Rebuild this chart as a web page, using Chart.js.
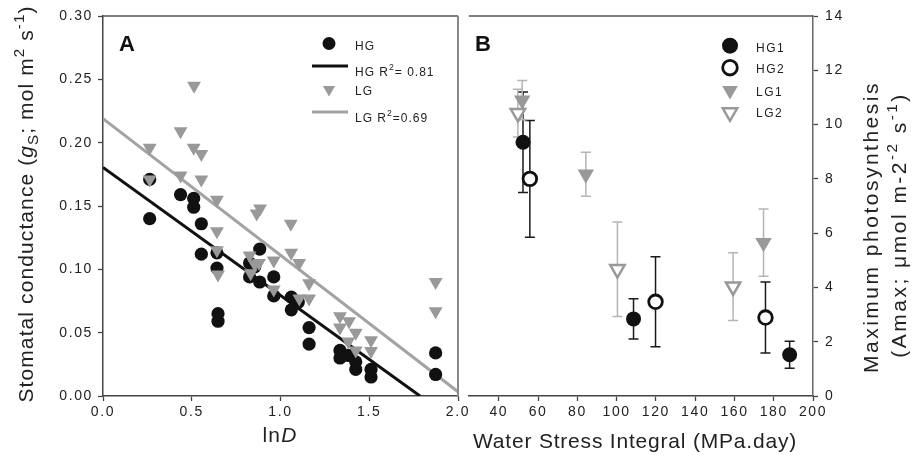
<!DOCTYPE html>
<html><head><meta charset="utf-8"><title>Stomatal conductance and maximum photosynthesis</title>
<script src="https://cdn.jsdelivr.net/npm/chart.js@4.4.1/dist/chart.umd.min.js"></script>
<style>
html,body{margin:0;padding:0;background:#fff;}
#wrap{position:relative;width:919px;height:455px;overflow:hidden;background:#fff}
#cA,#cB{position:absolute;top:0}
#cA{left:0;width:478px;height:455px}
#cB{left:458px;width:461px;height:455px}
</style></head><body>
<div id="wrap"><canvas id="cA" width="478" height="455"></canvas><canvas id="cB" width="461" height="455"></canvas></div>
<script>
// ---------------- Panel A data ----------------
const xTicksA = [0, 0.5, 1.0, 1.5, 2.0];
const yTicksA = [0, 0.05, 0.10, 0.15, 0.20, 0.25, 0.30];
const lnD_HG = [0.263,0.263,0.437,0.511,0.511,0.554,0.554,0.642,0.642,0.648,0.648,0.826,0.826,0.855,0.883,0.883,0.962,0.962,1.061,1.061,1.100,1.161,1.161,1.335,1.335,1.382,1.424,1.424,1.510,1.510,1.874,1.874];
const gs_HG  = [0.171,0.140,0.159,0.156,0.149,0.136,0.112,0.113,0.101,0.065,0.059,0.105,0.094,0.102,0.116,0.090,0.094,0.079,0.078,0.068,0.074,0.054,0.041,0.036,0.030,0.032,0.027,0.021,0.021,0.015,0.034,0.017];
const lnD_LG = [0.263,0.263,0.437,0.437,0.513,0.511,0.554,0.554,0.642,0.642,0.642,0.648,0.826,0.832,0.855,0.879,0.866,0.885,0.962,0.962,1.058,1.060,1.105,1.106,1.161,1.161,1.335,1.335,1.386,1.382,1.424,1.424,1.510,1.510,1.874,1.874];
const gs_LG  = [0.196,0.171,0.209,0.174,0.245,0.196,0.191,0.171,0.155,0.130,0.115,0.096,0.111,0.097,0.104,0.105,0.144,0.148,0.107,0.084,0.136,0.113,0.105,0.077,0.089,0.077,0.063,0.054,0.059,0.043,0.050,0.036,0.044,0.0355,0.090,0.067];
const fitHG_lnD = [0, 1.786];
const fitHG_gs  = [0.1805, 0];
const fitLG_lnD = [0, 2.0];
const fitLG_gs  = [0.219, 0.0034];
const seriesA = ['HG', 'LG', 'HG fit', 'LG fit'];
const legendTextA = [
  [{t:'HG'}],
  [{t:'HG R'},{t:'2',sup:true},{t:'= 0.81'}],
  [{t:'LG'}],
  [{t:'LG R'},{t:'2',sup:true},{t:'=0.69'}]
];
const titleYA = [{t:'Stomatal conductance ('},{t:'g',italic:true},{t:'S',sub:true},{t:'; mol m'},{t:'2',sup:true},{t:' s'},{t:'-1',sup:true},{t:')'}];
const titleXA = [{t:'ln'},{t:'D',italic:true}];

// ---------------- Panel B data ----------------
const xTicksB = [40, 60, 80, 100, 120, 140, 160, 180, 200];
const yTicksB = [0, 2, 4, 6, 8, 10, 12, 14];
const seriesB = ['HG1', 'HG2', 'LG1', 'LG2'];
const wsi_HG1 = [52.3, 108.6, 188.1];
const amax_HG1 = [9.35, 2.84, 1.52];
const err_HG1 = [1.85, 0.74, 0.50];
const wsi_HG2 = [55.8, 119.8, 175.8];
const amax_HG2 = [8.00, 3.47, 2.89];
const err_HG2 = [2.15, 1.66, 1.31];
const wsi_LG1 = [51.9, 84.3, 174.8];
const amax_LG1 = [10.90, 8.17, 5.65];
const err_LG1 = [0.72, 0.81, 1.24];
const wsi_LG2 = [49.7, 100.4, 159.3];
const amax_LG2 = [10.42, 4.67, 4.03];
const err_LG2 = [0.88, 1.74, 1.25];
const titleXB = [{t:'Water Stress Integral (MPa.day)'}];
const titleYB1 = [{t:'Maximum photosynthesis'}];
const titleYB2 = [{t:'(Amax; \u03bcmol m-2'},{t:'-2',sup:true},{t:' s'},{t:'-1',sup:true},{t:')'}];

// ---------------- helpers ----------------
const FONT = "'Liberation Sans', Arial, Helvetica, sans-serif";
const TXT = '#222';
function pts(xs, ys){ return xs.map((x,i)=>({x:x, y:ys[i]})); }

function drawRich(ctx, segs, x, y, o){
  const size=o.size, spacing=o.spacing||0, align=o.align||'left';
  ctx.save();
  try { ctx.letterSpacing = spacing + 'px'; } catch(e) {}
  ctx.textBaseline='alphabetic'; ctx.textAlign='left'; ctx.fillStyle=o.color||TXT;
  const fontOf = s => { const sz=(s.sup||s.sub)? size*0.72 : size; return (s.italic?'italic ':'')+(o.bold?'bold ':'')+sz.toFixed(2)+'px '+FONT; };
  let w=0; segs.forEach(s=>{ ctx.font=fontOf(s); w+=ctx.measureText(s.t).width; });
  let cx = align==='center' ? x-w/2 : (align==='right' ? x-w : x);
  segs.forEach(s=>{ ctx.font=fontOf(s); const dy = s.sup ? -size*0.42 : (s.sub ? size*0.22 : 0); ctx.fillText(s.t, cx, y+dy); cx+=ctx.measureText(s.t).width; });
  ctx.restore();
}
function drawRichRot(ctx, segs, x, y, o){
  ctx.save(); ctx.translate(x,y); ctx.rotate(-Math.PI/2); drawRich(ctx, segs, 0, 0, o); ctx.restore();
}
function drawMarker(ctx, ds, x, y, r){
  ctx.save();
  ctx.beginPath();
  if (ds.pointStyle === 'triangle') {
    let a=(ds.pointRotation||0)*Math.PI/180;
    ctx.moveTo(x+Math.sin(a)*r, y-Math.cos(a)*r); a+=2*Math.PI/3;
    ctx.lineTo(x+Math.sin(a)*r, y-Math.cos(a)*r); a+=2*Math.PI/3;
    ctx.lineTo(x+Math.sin(a)*r, y-Math.cos(a)*r); ctx.closePath();
  } else { ctx.arc(x,y,r,0,Math.PI*2); }
  ctx.fillStyle=ds.backgroundColor; ctx.fill();
  if (ds.borderWidth) { ctx.lineWidth=ds.borderWidth; ctx.strokeStyle=ds.borderColor; ctx.stroke(); }
  ctx.restore();
}
const tickSpacing = {
  id:'tickSpacing',
  beforeDraw(chart){ try{ chart.ctx.letterSpacing='1.6px'; }catch(e){} },
  beforeDatasetsDraw(chart){ try{ chart.ctx.letterSpacing='0px'; }catch(e){} }
};
const errorBars = {
  id:'errorBars',
  beforeDatasetsDraw(chart){
    const ctx=chart.ctx, xs=chart.scales.x, ys=chart.scales.y;
    chart.data.datasets.forEach(ds=>{
      if(!ds.errorBars) return;
      ctx.save(); ctx.strokeStyle=ds.errorColor; ctx.lineWidth=1.5;
      ds.data.forEach((p,i)=>{
        const e=ds.errorBars[i], px=xs.getPixelForValue(p.x);
        const y1=ys.getPixelForValue(p.y+e), y2=ys.getPixelForValue(p.y-e);
        ctx.beginPath();
        ctx.moveTo(px,y1); ctx.lineTo(px,y2);
        ctx.moveTo(px-5,y1); ctx.lineTo(px+5,y1);
        ctx.moveTo(px-5,y2); ctx.lineTo(px+5,y2);
        ctx.stroke();
      });
      ctx.restore();
    });
  }
};
function frame(sides){
  return { id:'frame', afterDraw(chart){
    const c=chart.ctx, a=chart.chartArea;
    c.save();
    if(sides.top){ c.strokeStyle='#555'; c.lineWidth=1.3; c.beginPath(); c.moveTo(a.left,a.top); c.lineTo(a.right,a.top); c.stroke(); }
    if(sides.right){ c.strokeStyle='#8a8a8a'; c.lineWidth=2; c.beginPath(); c.moveTo(a.right,a.top); c.lineTo(a.right,a.bottom); c.stroke(); }
    c.restore();
  }};
}
function tickCfg(fmt, pad){
  return { callback:(v)=>fmt(Number(v)), font:{family:FONT,size:14}, color:TXT, padding:pad, maxRotation:0, autoSkip:false };
}
const gridCfg = { display:true, drawOnChartArea:false, drawTicks:true, tickLength:5, tickColor:'#444', tickWidth:1.3 };

// ---------------- Chart A ----------------
const overlayA = { id:'overlayA', afterDraw(chart){
  const ctx=chart.ctx, ds=chart.data.datasets;
  drawRich(ctx, [{t:'A'}], 119, 51, {size:22, bold:true, color:'#111'});
  drawRichRot(ctx, titleYA, 33, 204, {size:21, spacing:1.1, align:'center'});
  drawRich(ctx, titleXA, 280, 442, {size:21, spacing:1.2, align:'center'});
  // legend
  drawMarker(ctx, ds[0], 329, 43.5, 6.5);
  drawRich(ctx, legendTextA[0], 355, 50, {size:12, spacing:1});
  ctx.save(); ctx.strokeStyle=ds[2].borderColor; ctx.lineWidth=3; ctx.beginPath(); ctx.moveTo(312,66); ctx.lineTo(348,66); ctx.stroke(); ctx.restore();
  drawRich(ctx, legendTextA[1], 355, 75.5, {size:12, spacing:1});
  drawMarker(ctx, ds[1], 329, 89.5, 7);
  drawRich(ctx, legendTextA[2], 355, 94.5, {size:12, spacing:1});
  ctx.save(); ctx.strokeStyle=ds[3].borderColor; ctx.lineWidth=3; ctx.beginPath(); ctx.moveTo(312,112); ctx.lineTo(348,112); ctx.stroke(); ctx.restore();
  drawRich(ctx, legendTextA[3], 355, 121.5, {size:12, spacing:1});
}};

new Chart(document.getElementById('cA'), {
  type:'scatter',
  data:{ datasets:[
    { label:seriesA[0], data:pts(lnD_HG, gs_HG), pointStyle:'circle', pointRadius:6.6, backgroundColor:'#111', borderColor:'#111', borderWidth:0, order:2 },
    { label:seriesA[1], data:pts(lnD_LG, gs_LG), pointStyle:'triangle', pointRotation:180, pointRadius:8, backgroundColor:'#999', borderColor:'#999', borderWidth:0, order:1 },
    { label:seriesA[2], data:pts(fitHG_lnD, fitHG_gs), showLine:true, pointRadius:0, borderColor:'#111', backgroundColor:'#111', borderWidth:3, order:3 },
    { label:seriesA[3], data:pts(fitLG_lnD, fitLG_gs), showLine:true, pointRadius:0, borderColor:'#a3a3a3', backgroundColor:'#a3a3a3', borderWidth:3, order:3 }
  ]},
  options:{
    responsive:false, animation:false, devicePixelRatio:1, events:[],
    layout:{ padding:{left:0, top:16, right:20, bottom:0} },
    plugins:{ legend:{display:false}, tooltip:{enabled:false} },
    scales:{
      x:{ type:'linear', min:0, max:2.0,
          afterBuildTicks:s=>{ s.ticks = xTicksA.map(v=>({value:v})); },
          afterFit:s=>{ s.height=59; },
          ticks:tickCfg(v=>v.toFixed(1), 3), grid:gridCfg,
          border:{display:true, color:'#444', width:1.5}, title:{display:false} },
      y:{ type:'linear', min:0, max:0.30,
          afterBuildTicks:s=>{ s.ticks = yTicksA.map(v=>({value:v})); },
          afterFit:s=>{ s.width=103; },
          ticks:tickCfg(v=>v.toFixed(2), 5), grid:gridCfg,
          border:{display:true, color:'#444', width:1.5}, title:{display:false} }
    }
  },
  plugins:[tickSpacing, frame({top:true, right:true}), overlayA]
});

// ---------------- Chart B ----------------
const overlayB = { id:'overlayB', afterDraw(chart){
  const ctx=chart.ctx, ds=chart.data.datasets;
  drawRich(ctx, [{t:'B'}], 17, 51, {size:22, bold:true, color:'#111'});
  drawRich(ctx, titleXB, 177, 448, {size:21, spacing:0.8, align:'center'});
  drawRichRot(ctx, titleYB1, 420, 227, {size:21, spacing:2.5, align:'center'});
  drawRichRot(ctx, titleYB2, 448, 225, {size:21, spacing:2.5, align:'center'});
  const rows=[45.7, 67.7, 90.5, 112.5], base=[51.7, 73.3, 95.7, 116.7], rr=[8, 7.3, 9, 8.3];
  for(let i=0;i<4;i++){
    drawMarker(ctx, ds[i], 272, rows[i], rr[i]);
    drawRich(ctx, [{t:seriesB[i]}], 298, base[i], {size:12, spacing:1.5});
  }
}};

new Chart(document.getElementById('cB'), {
  type:'scatter',
  data:{ datasets:[
    { label:seriesB[0], data:pts(wsi_HG1, amax_HG1), errorBars:err_HG1, errorColor:'#1a1a1a', pointStyle:'circle', pointRadius:7.5, backgroundColor:'#111', borderColor:'#111', borderWidth:0 },
    { label:seriesB[1], data:pts(wsi_HG2, amax_HG2), errorBars:err_HG2, errorColor:'#1a1a1a', pointStyle:'circle', pointRadius:6.8, backgroundColor:'#fff', borderColor:'#111', borderWidth:2.8 },
    { label:seriesB[2], data:pts(wsi_LG1, amax_LG1), errorBars:err_LG1, errorColor:'#b5b5b5', pointStyle:'triangle', pointRotation:180, pointRadius:9.5, backgroundColor:'#999', borderColor:'#999', borderWidth:0 },
    { label:seriesB[3], data:pts(wsi_LG2, amax_LG2), errorBars:err_LG2, errorColor:'#b5b5b5', pointStyle:'triangle', pointRotation:180, pointRadius:8.3, backgroundColor:'#fff', borderColor:'#999', borderWidth:2.5 }
  ]},
  options:{
    responsive:false, animation:false, devicePixelRatio:1, events:[],
    layout:{ padding:{left:0, top:16, right:0, bottom:0} },
    plugins:{ legend:{display:false}, tooltip:{enabled:false} },
    scales:{
      x:{ type:'linear', min:24.7, max:200,
          afterBuildTicks:s=>{ s.ticks = xTicksB.map(v=>({value:v})); },
          afterFit:s=>{ s.height=59; },
          ticks:tickCfg(v=>String(v), 3), grid:gridCfg,
          border:{display:true, color:'#444', width:1.5}, title:{display:false} },
      y:{ type:'linear', position:'right', min:0, max:14,
          afterBuildTicks:s=>{ s.ticks = yTicksB.map(v=>({value:v})); },
          afterFit:s=>{ s.width=106; },
          ticks:tickCfg(v=>String(v), 7), grid:gridCfg,
          border:{display:true, color:'#666', width:1.5}, title:{display:false} }
    }
  },
  plugins:[tickSpacing, errorBars, frame({top:true, right:false}), overlayB]
});
</script></body></html>
